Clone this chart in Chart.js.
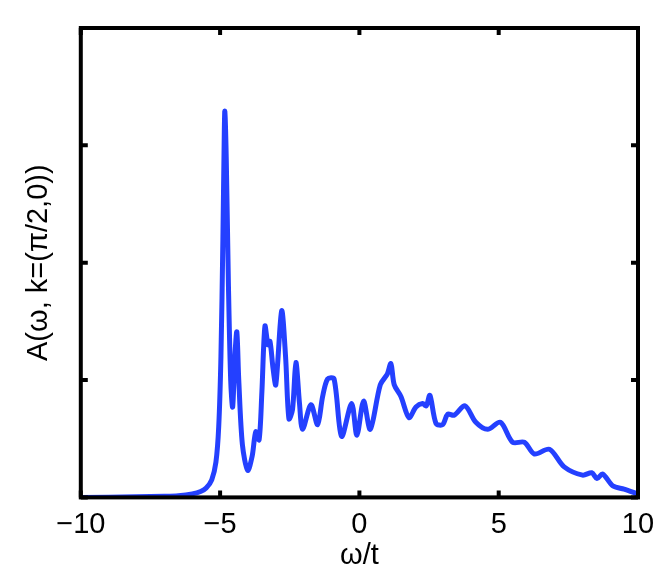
<!DOCTYPE html>
<html>
<head>
<meta charset="utf-8">
<script src="https://cdn.jsdelivr.net/npm/chart.js@4"></script>
<style>
  html, body { margin: 0; padding: 0; background: #fff; }
  #wrap { width: 667px; height: 587px; }
</style>
</head>
<body>
<div id="wrap"><canvas id="chart"></canvas></div>
<script>
// spectral function
const omega = [-10, -8, -7, -6.5, -6, -5.7, -5.5, -5.3, -5.15, -5.05, -4.97, -4.9, -4.85, -4.83, -4.78, -4.7, -4.62, -4.55, -4.47, -4.4, -4.33, -4.2, -4.01, -3.85, -3.72, -3.6, -3.5, -3.39, -3.28, -3.21, -3.1, -3.0, -2.79, -2.65, -2.53, -2.4, -2.28, -2.15, -2.04, -1.74, -1.5, -1.32, -1.14, -0.91, -0.64, -0.28, -0.09, 0.15, 0.39, 0.75, 1.0, 1.13, 1.25, 1.49, 1.78, 2.03, 2.27, 2.4, 2.53, 2.75, 2.99, 3.17, 3.4, 3.79, 4.18, 4.6, 5.06, 5.5, 5.92, 6.28, 6.82, 7.35, 8.01, 8.34, 8.53, 8.73, 9.09, 9.5, 9.99];
const spectral = [0.0, 0.005, 0.01, 0.015, 0.03, 0.05, 0.08, 0.15, 0.3, 0.6, 1.2, 2.2, 3.1, 3.29, 2.9, 1.8, 1.0, 0.77, 1.2, 1.41, 1.0, 0.45, 0.23, 0.35, 0.56, 0.49, 0.9, 1.46, 1.30, 1.33, 1.1, 0.96, 1.59, 1.2, 0.67, 0.75, 1.15, 0.8, 0.58, 0.79, 0.62, 0.86, 1.01, 1.01, 0.52, 0.80, 0.53, 0.82, 0.58, 0.96, 1.05, 1.14, 0.96, 0.86, 0.68, 0.77, 0.80, 0.78, 0.87, 0.63, 0.62, 0.71, 0.70, 0.78, 0.64, 0.58, 0.64, 0.47, 0.47, 0.37, 0.41, 0.26, 0.19, 0.21, 0.16, 0.20, 0.10, 0.07, 0.03];
const xTicks = [-10, -5, 0, 5, 10];
const yTicks = [0, 1, 2, 3, 4];

const points = omega.map((w, i) => ({ x: w, y: spectral[i] }));

// box frame with inward ticks, matlab style
const frameTicks = {
  id: "frameTicks",
  afterDraw(chart) {
    const { ctx, chartArea: a, scales } = chart;
    ctx.save();
    ctx.strokeStyle = "#000";
    ctx.lineWidth = 4;
    ctx.strokeRect(a.left, a.top, a.right - a.left, a.bottom - a.top);
    const len = 7;
    xTicks.forEach((v) => {
      const px = scales.x.getPixelForValue(v);
      ctx.beginPath();
      ctx.moveTo(px, a.bottom); ctx.lineTo(px, a.bottom - len);
      ctx.moveTo(px, a.top); ctx.lineTo(px, a.top + len);
      ctx.stroke();
    });
    yTicks.forEach((v) => {
      const py = scales.y.getPixelForValue(v);
      ctx.beginPath();
      ctx.moveTo(a.left, py); ctx.lineTo(a.left + len, py);
      ctx.moveTo(a.right, py); ctx.lineTo(a.right - len, py);
      ctx.stroke();
    });
    ctx.restore();
  },
};

new Chart(document.getElementById("chart"), {
  type: "line",
  data: {
    datasets: [
      {
        data: points,
        borderColor: "#2440ff",
        borderWidth: 5,
        pointRadius: 0,
        tension: 0.3,
        fill: false,
      },
    ],
  },
  options: {
    responsive: true,
    maintainAspectRatio: false,
    animation: false,
    layout: { padding: { top: 28, right: 29, left: 22, bottom: 14 } },
    plugins: { legend: { display: false }, tooltip: { enabled: false } },
    scales: {
      x: {
        type: "linear",
        min: -10,
        max: 10,
        afterBuildTicks: (s) => { s.ticks = xTicks.map((v) => ({ value: v })); },
        grid: { display: false },
        border: { display: false },
        ticks: {
          color: "#000",
          font: { family: "Liberation Sans", size: 29 },
          padding: 2,
          maxRotation: 0,
          callback: (v) => (v < 0 ? "\u2212" + Math.abs(v) : String(v)),
        },
        title: {
          display: true,
          text: "ω/t",
          color: "#000",
          font: { family: "Liberation Sans", size: 29 },
          padding: { top: -6, bottom: 0 },
        },
      },
      y: {
        type: "linear",
        min: 0,
        max: 4,
        afterBuildTicks: (s) => { s.ticks = yTicks.map((v) => ({ value: v })); },
        grid: { display: false },
        border: { display: false },
        ticks: { display: false },
        title: {
          display: true,
          text: "A(ω, k=(π/2,0))",
          color: "#000",
          font: { family: "Liberation Sans", size: 29 },
          padding: { top: 0, bottom: 16 },
        },
      },
    },
  },
  plugins: [frameTicks],
});
</script>
</body>
</html>
